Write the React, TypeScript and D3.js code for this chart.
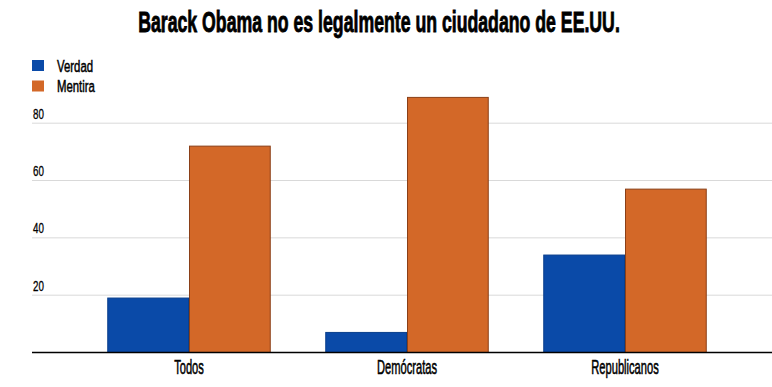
import React from 'react';
import * as d3 from 'd3';

// survey answers, percent
const categories = ['Todos', 'Demócratas', 'Republicanos'];
const seriesNames = ['Verdad', 'Mentira'];
const verdad = [19, 7, 34];
const mentira = [72, 89, 57];
const yTicks = [20, 40, 60, 80];

const title = 'Barack Obama no es legalmente un ciudadano de EE.UU.';
const colors = ['#0a4aa8', '#d36828'];
const borders = ['#0a3f8c', '#8a3f17'];

const W = 772;
const H = 387;
// no narrow face installed, so glyphs are squeezed with scale()
const FONT = '"Liberation Sans", Arial, sans-serif';

export default function App() {
  const x = d3.scaleBand<string>()
    .domain(categories)
    .range([80, 734])
    .paddingInner(0.25)
    .paddingOuter(0.125);

  const x1 = d3.scaleBand<string>()
    .domain(seriesNames)
    .range([0, x.bandwidth()]);

  const y = d3.scaleLinear()
    .domain([0, 80])
    .range([352.5, 123.2]);

  const rows = categories.map((c, i) => ({ cat: c, values: [verdad[i], mentira[i]] }));

  return (
    <svg width={W} height={H} style={{ position: 'absolute', left: 0, top: 0, background: '#fff' }}>
      {/* title */}
      <text
        transform={`translate(379, 32) scale(0.61, 1)`}
        textAnchor="middle"
        fontFamily={FONT}
        fontWeight="bold"
        fontSize={29}
        fill="#000"
        stroke="#000"
        strokeWidth={0.9}
      >
        {title}
      </text>

      {/* legend */}
      {seriesNames.map((s, i) => (
        <g key={s} transform={`translate(32, ${60 + i * 20.5})`}>
          <rect width={12} height={11} fill={colors[i]} />
          <text
            transform={`translate(25, 11.5) scale(0.69, 1)`}
            fontFamily={FONT}
            fontSize={16.5}
            fill="#000"
            stroke="#000"
            strokeWidth={0.5}
          >
            {s}
          </text>
        </g>
      ))}

      {/* gridlines and tick labels */}
      {yTicks.map(t => (
        <g key={t}>
          <line x1={32} x2={W} y1={y(t)} y2={y(t)} stroke="#d9d9d9" strokeWidth={1} />
          <text
            transform={`translate(33, ${y(t) - 4.5}) scale(0.7, 1)`}
            fontFamily={FONT}
            fontSize={14}
            fill="#000"
            stroke="#000"
            strokeWidth={0.3}
          >
            {t}
          </text>
        </g>
      ))}

      {/* bars */}
      {rows.map(r => (
        <g key={r.cat} transform={`translate(${x(r.cat)}, 0)`}>
          {r.values.map((v, i) => (
            <rect
              key={seriesNames[i]}
              x={x1(seriesNames[i])! + 0.5}
              y={y(v)}
              width={x1.bandwidth() - 1}
              height={y(0) - y(v)}
              fill={colors[i]}
              stroke={borders[i]}
              strokeWidth={1}
            />
          ))}
        </g>
      ))}

      {/* baseline */}
      <line x1={32} x2={W} y1={y(0)} y2={y(0)} stroke="#000" strokeWidth={1.5} />

      {/* category labels */}
      {categories.map(c => (
        <text
          key={c}
          transform={`translate(${x(c)! + x.bandwidth() / 2}, 373.5) scale(0.53, 1)`}
          textAnchor="middle"
          fontFamily={FONT}
          fontSize={21}
          fill="#000"
          stroke="#000"
          strokeWidth={0.6}
        >
          {c}
        </text>
      ))}
    </svg>
  );
}
